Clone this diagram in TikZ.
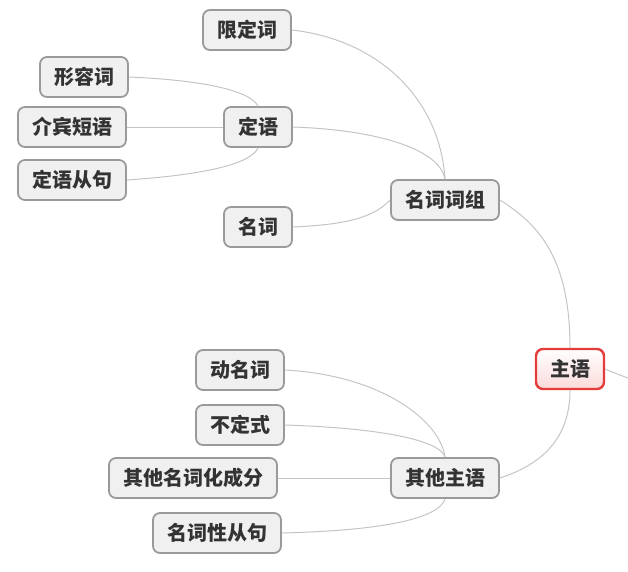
\documentclass[tikz,border=0pt]{standalone}
\usepackage{fontspec}
\newfontfamily\cjk{Noto Sans CJK SC}
\usetikzlibrary{positioning}
\definecolor{boxline}{HTML}{9A9A9A}
\definecolor{boxfill}{HTML}{F0F0F0}
\definecolor{rootline}{HTML}{E43B3B}
\definecolor{rootfill}{HTML}{FBDADA}
\definecolor{linkline}{HTML}{C4C4C4}
\tikzset{
  topic/.style={draw=boxline, line width=1.8pt, fill=boxfill, rounded corners=7pt,
    minimum height=40pt, inner xsep=14pt, font=\cjk\bfseries\fontsize{20}{24}\selectfont, text=black!80},
  root/.style={topic, draw=rootline, line width=2.4pt, top color=white, bottom color=rootfill},
  link/.style={draw=linkline, line width=1pt}
}

\begin{document}
\begin{tikzpicture}[x=1pt,y=-1pt]
    \useasboundingbox (0,0) rectangle (628,571);
    \node[root] (zy) at (570,369) {主语};
    \node[topic] (mcz) at (445,200) {名词词组};
    \node[topic] (qtzy) at (445,478) {其他主语};
    \node[topic] (xdc) at (247,30) {限定词};
    \node[topic] (dy) at (258,127) {定语};
    \node[topic] (mc) at (258,227) {名词};
    \node[topic] (xrc) at (84,77) {形容词};
    \node[topic] (jbdy) at (72,127) {介宾短语};
    \node[topic] (dycj) at (72,180) {定语从句};
    \node[topic] (dmc) at (240,370) {动名词};
    \node[topic] (bds) at (240,425) {不定式};
    \node[topic] (qtmc) at (193,478) {其他名词化成分};
    \node[topic] (mcxcj) at (217,533) {名词性从句};
    \coordinate (out) at (628,378);

    % main branches
    \draw[link] (zy.north) .. controls (570,260) and (540,225) .. (mcz.east);
    \draw[link] (zy.south) .. controls (570,440) and (540,465) .. (qtzy.east);
    \draw[link] (zy.east) .. controls (612,372) .. (out);

    % noun phrase
    \draw[link] (xdc.east) .. controls (380,40) and (440,100) .. (mcz.north);
    \draw[link] (dy.east) .. controls (380,130) and (440,150) .. (mcz.north);
    \draw[link] (mc.east) .. controls (330,225) and (370,222) .. (mcz.west);
    \draw[link] (xrc.east) .. controls (200,80) and (250,90) .. (dy.north);
    \draw[link] (jbdy.east) -- (dy.west);
    \draw[link] (dycj.east) .. controls (200,175) and (250,165) .. (dy.south);

    % other subjects
    \draw[link] (dmc.east) .. controls (380,375) and (440,420) .. (qtzy.north);
    \draw[link] (bds.east) .. controls (380,428) and (440,440) .. (qtzy.north);
    \draw[link] (qtmc.east) -- (qtzy.west);
    \draw[link] (mcxcj.east) .. controls (400,530) and (440,515) .. (qtzy.south);
\end{tikzpicture}
\end{document}
